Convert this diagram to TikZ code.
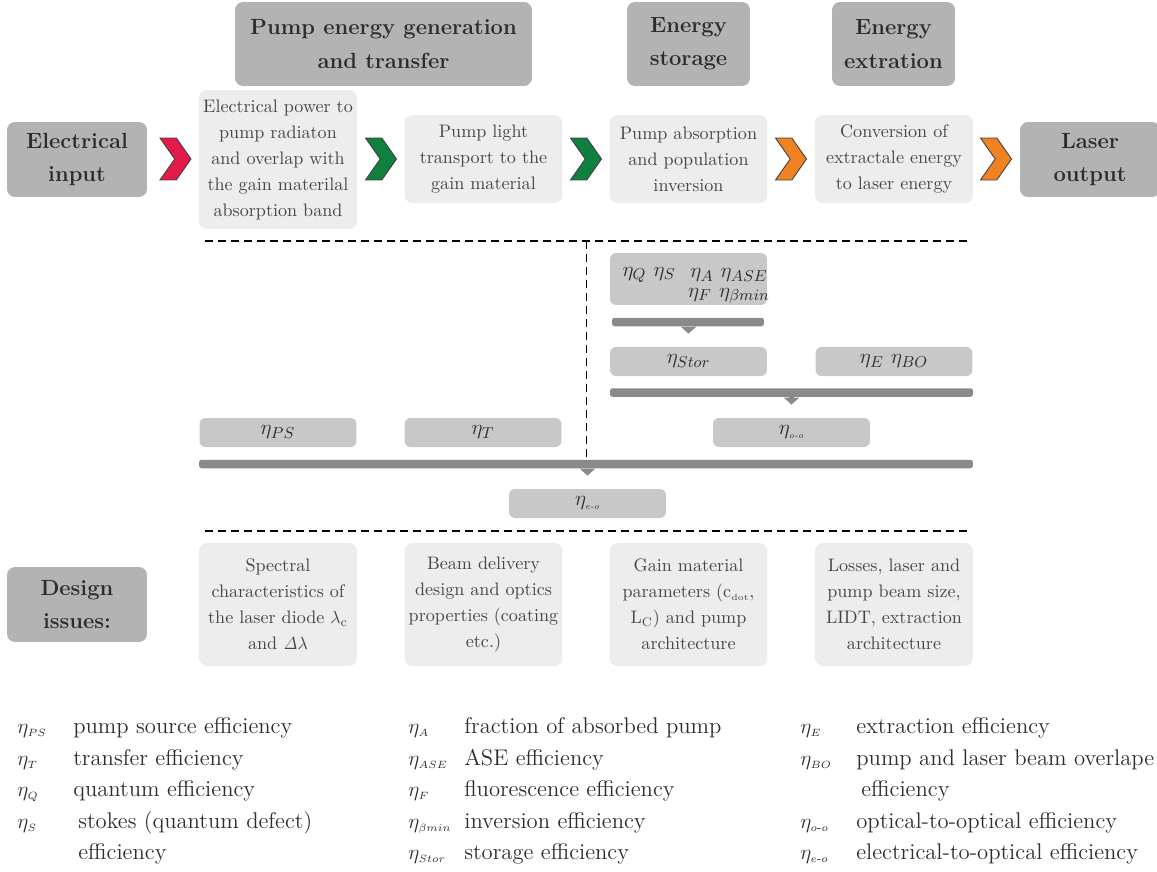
\documentclass[tikz,border=0pt]{standalone}
\usepackage{amsmath}
\usetikzlibrary{shapes.symbols,arrows.meta}
\definecolor{headgray}{RGB}{179,179,179}
\definecolor{lightbox}{RGB}{236,237,236}
\definecolor{etagray}{RGB}{200,200,200}
\definecolor{bargray}{RGB}{138,138,138}
\definecolor{textdark}{RGB}{45,45,45}
\definecolor{textgray}{RGB}{70,70,70}
\definecolor{chevred}{RGB}{227,27,74}
\definecolor{chevgreen}{RGB}{16,128,62}
\definecolor{chevorange}{RGB}{240,130,33}
\tikzset{
	headbox/.style={rounded corners=0.16cm, fill=headgray, text=textdark, align=center,
		inner sep=0pt, font=\fontsize{12.5}{19}\selectfont\bfseries},
	stepbox/.style={rounded corners=0.16cm, fill=lightbox, text=textgray, align=center,
		inner sep=0pt, minimum width=3.16cm, font=\fontsize{10.3}{14.8}\selectfont},
	etabox/.style={rounded corners=0.12cm, fill=etagray, text=textdark, inner sep=0pt,
		minimum width=3.14cm, minimum height=0.58cm, font=\fontsize{12.5}{15}\selectfont},
	etatext/.style={text=textdark, inner sep=0pt, font=\fontsize{12.5}{15}\selectfont},
	sumbar/.style={rounded corners=0.05cm, fill=bargray, inner sep=0pt, minimum height=0.17cm},
	chev/.style={shape=signal, signal from=west, signal to=east, signal pointer angle=110,
		draw=black!75, line width=0.5pt, inner sep=0pt, minimum width=0.62cm, minimum height=0.84cm},
	droparrow/.style={draw=bargray, line width=0.11cm, -{Triangle[length=0.14cm,width=0.3cm]},
		shorten >=0.26cm},
	divider/.style={dash pattern=on 0.16cm off 0.1cm, line width=0.7pt},
	keyline/.style={anchor=base west, inner sep=0pt, text=textdark, font=\fontsize{12.9}{18}\selectfont}
}
\newcommand{\keyeta}[2][1.12cm]{\makebox[#1][l]{$\eta_{\scriptscriptstyle #2}$}}
\begin{document}
\begin{tikzpicture}[x=0.02cm,y=0.02cm]
	\clip (0,0) rectangle (1157,-872);
	%stage headers
		\node[headbox, minimum width=5.94cm, minimum height=1.68cm] (hpump) at (383.5,-44) {Pump energy generation\\and transfer};
		\node[headbox, minimum width=2.46cm, minimum height=1.68cm] (hstore) at (688.5,-44) {Energy\\storage};
		\node[headbox, minimum width=2.46cm, minimum height=1.68cm] (hextr) at (893.5,-44) {Energy\\extration};
	%chain of steps
		\node[headbox, minimum width=2.8cm, minimum height=1.5cm] (input) at (77,-159.5) {Electrical\\input};
		\node[stepbox, minimum height=2.78cm] (step1) at (278,-159.5) {Electrical power to\\pump radiaton\\and overlap with\\the gain materilal\\absorption band};
		\node[stepbox, minimum height=1.76cm] (step2) at (483.5,-159) {Pump light\\transport to the\\gain material};
		\node[stepbox, minimum height=1.76cm] (step3) at (688.5,-159) {Pump absorption\\and population\\inversion};
		\node[stepbox, minimum height=1.76cm] (step4) at (894,-159) {Conversion of\\extractale energy\\to laser energy};
		\node[headbox, minimum width=2.8cm, minimum height=1.5cm] (output) at (1090,-159.5) {Laser\\output};
	%chevrons between steps
		\node[chev, fill=chevred] (a1) at (175.5,-159) {};
		\node[chev, fill=chevgreen] (a2) at (381,-159) {};
		\node[chev, fill=chevgreen] (a3) at (586,-159) {};
		\node[chev, fill=chevorange] (a4) at (791,-159) {};
		\node[chev, fill=chevorange] (a5) at (996,-159) {};
	%dividers
		\draw[divider] (205,-241) -- (968,-241);
		\draw[divider] (586.5,-241) -- (586.5,-460);
		\draw[divider] (205,-531) -- (968,-531);
	%storage efficiencies
		\node[etabox, minimum height=1.04cm] (etastep) at (688.5,-279) {};
		\node[etatext] (etaqs) at (649,-275) {$\eta_Q\ \eta_S$};
		\node[etatext] (etaase) at (729,-275) {$\eta_A\ \eta_{ASE}$};
		\node[etatext] (etafb) at (729,-296) {$\eta_F\ \eta_{\beta min}$};
		\node[sumbar, minimum width=3.04cm] (bar1) at (688,-322) {};
		\node[etabox] (stor) at (688.5,-361.5) {$\eta_{Stor}$};
		\node[etabox] (ebo) at (894,-361.5) {$\eta_E\ \eta_{BO}$};
		\node[sumbar, minimum width=7.26cm] (bar2) at (791.5,-392.5) {};
	%overall efficiencies
		\node[etabox] (ps) at (278,-432.5) {$\eta_{PS}$};
		\node[etabox] (tr) at (483,-432.5) {$\eta_T$};
		\node[etabox] (oo) at (791.5,-432.5) {$\eta_{\text{\itshape\tiny o-o}}$};
		\node[sumbar, minimum width=15.48cm] (bigbar) at (586,-464) {};
		\node[etabox] (eo) at (587.5,-503.5) {$\eta_{\text{\itshape\tiny e-o}}$};
	%arrows out of the bars
		\draw[droparrow] (stor.north |- bar1.south) -- (stor.north);
		\draw[droparrow] (oo.north |- bar2.south) -- (oo.north);
		\draw[droparrow] (eo.north |- bigbar.south) -- (eo.north);
	%design issues
		\node[headbox, minimum width=2.8cm, minimum height=1.5cm] (design) at (77,-604.5) {Design\\issues:};
		\node[stepbox, minimum height=2.46cm] (issue1) at (278,-604.5) {Spectral\\characteristics of\\the laser diode $\lambda_{\mathrm{c}}$\\and $\mathit{\Delta}\lambda$};
		\node[stepbox, minimum height=2.46cm] (issue2) at (483.5,-604.5) {Beam delivery\\design and optics\\properties (coating\\etc.)};
		\node[stepbox, minimum height=2.46cm] (issue3) at (688.5,-604.5) {Gain material\\parameters (c$_{\scriptscriptstyle\mathrm{dot}}$,\\L$_{\mathrm{C}}$) and pump\\architecture};
		\node[stepbox, minimum height=2.46cm] (issue4) at (894,-604.5) {Losses, laser and\\pump beam size,\\LIDT, extraction\\architecture};
	%symbol list
		\node[keyline] (kps) at (17,-733) {\keyeta{PS}pump source efficiency};
		\node[keyline] (kt) at (17,-765) {\keyeta{T}transfer efficiency};
		\node[keyline] (kq) at (17,-796) {\keyeta{Q}quantum efficiency};
		\node[keyline] (ks) at (17,-828) {\keyeta[1.22cm]{S}stokes (quantum defect)};
		\node[keyline] (ks2) at (78,-859) {efficiency};
		\node[keyline] (ka) at (408,-733) {\keyeta{A}fraction of absorbed pump};
		\node[keyline] (kase) at (408,-765) {\keyeta{ASE}ASE efficiency};
		\node[keyline] (kf) at (408,-796) {\keyeta{F}fluorescence efficiency};
		\node[keyline] (kb) at (408,-828) {\keyeta{\beta min}inversion efficiency};
		\node[keyline] (kstor) at (408,-859) {\keyeta{Stor}storage efficiency};
		\node[keyline] (ke) at (800,-733) {\keyeta{E}extraction efficiency};
		\node[keyline] (kbo) at (800,-765) {\keyeta{BO}pump and laser beam overlape};
		\node[keyline] (kbo2) at (861,-796) {efficiency};
		\node[keyline] (koo) at (800,-828) {\keyeta{o\text{-}o}optical-to-optical efficiency};
		\node[keyline] (keo) at (800,-859) {\keyeta{e\text{-}o}electrical-to-optical efficiency};
\end{tikzpicture}
\end{document}
